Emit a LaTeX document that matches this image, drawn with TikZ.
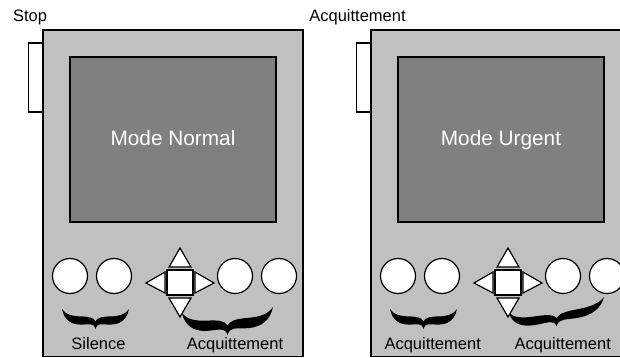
\documentclass[tikz,border=0pt]{standalone}
\usepackage{fontspec}
\setmainfont{Liberation Sans}
\definecolor{bodygray}{HTML}{C0C0C0}
\definecolor{scrgray}{HTML}{808080}
\tikzset{
 devbody/.style={draw=black, fill=bodygray, line width=1.5pt},
 screenbox/.style={draw=black, fill=scrgray, line width=1.5pt},
 sidebtn/.style={draw=black, fill=white, line width=1.5pt},
 btn/.style={circle, draw=black, fill=white, line width=1.2pt, minimum size=35pt, inner sep=0pt},
 padkey/.style={draw=black, fill=white, line width=1.2pt, line join=miter},
 padsq/.style={rectangle, draw=black, fill=white, line width=1.5pt, minimum width=26pt, minimum height=25pt, inner sep=0pt},
 lbl/.style={font=\fontsize{16.5}{18}\selectfont, anchor=base, inner sep=0pt},
 modelbl/.style={font=\fontsize{20.8}{24}\selectfont, text=white, anchor=base, inner sep=0pt},
}
% brace: x1 y1 x2 y2 H
\newcommand{\mybrace}[5]{%
 \begin{scope}[shift={(#1pt,-#2pt)}, x={({(#3-#1)*1pt},{-(#4-#2)*1pt})}, y={(0pt,{-#5*1pt})}]
  \fill[black] (0,0)
   .. controls (0.03,0.50) and (0.12,0.78) .. (0.28,0.78)
   .. controls (0.41,0.78) and (0.47,0.66) .. (0.5,1)
   .. controls (0.53,0.66) and (0.59,0.78) .. (0.72,0.78)
   .. controls (0.88,0.78) and (0.97,0.50) .. (1,0)
   .. controls (0.95,0.26) and (0.86,0.36) .. (0.72,0.37)
   .. controls (0.60,0.38) and (0.53,0.42) .. (0.5,0.62)
   .. controls (0.47,0.42) and (0.40,0.38) .. (0.28,0.37)
   .. controls (0.14,0.36) and (0.05,0.26) .. (0,0) -- cycle;
 \end{scope}}
% device body: offset, tag, mode text
\newcommand{\devicebody}[3]{%
 \node[devbody, rectangle, inner sep=0pt, minimum width=260pt, minimum height=326.5pt] (#2body) at ({173+#1},193.25) {};
 \node[sidebtn, rectangle, inner sep=0pt, minimum width=14.3pt, minimum height=69pt] (#2side) at ({35.85+#1},77.5) {};
 \node[screenbox, rectangle, inner sep=0pt, minimum width=206pt, minimum height=165pt] (#2scr) at ({173+#1},139.5) {};
 \node[modelbl] (#2mode) at ({173+#1},146) {#3};
 \node[btn] (#2c1) at ({70+#1},276) {};
 \node[btn] (#2c2) at ({114+#1},276) {};
 \node[btn] (#2c3) at ({235+#1},276) {};
 \node[btn] (#2c4) at ({279+#1},276) {};
}
\newcommand{\dpad}[2]{%
 \node[padsq] (#2sq) at ({180+#1},282.5) {};
 \draw[padkey] ({180+#1},248) -- ({169+#1},267) -- ({191+#1},267) -- cycle;
 \draw[padkey] ({169+#1},298) -- ({191+#1},298) -- ({180+#1},317) -- cycle;
 \draw[padkey] ({146+#1},283) -- ({165+#1},272) -- ({165+#1},293) -- cycle;
 \draw[padkey] ({214+#1},283) -- ({195+#1},272) -- ({195+#1},293) -- cycle;
}
\begin{document}
\begin{tikzpicture}[x=1pt,y=-1pt]
\useasboundingbox (0,0) rectangle (620,358);
\clip (0,0) rectangle (620,358);
\node[lbl] (stop) at (30,22) {Stop};
\node[lbl] (ack) at (357.5,22) {Acquittement};
\devicebody{0}{L}{Mode Normal}
\devicebody{328}{R}{Mode Urgent}
\mybrace{62}{309}{129}{309}{20}
\mybrace{182}{313}{273}{307}{25}
\mybrace{390}{309}{457}{309}{20}
\mybrace{509}{313}{604}{297}{21}
\dpad{0}{L}
\dpad{328}{R}
\node[lbl] (sil) at (98.5,349.5) {Silence};
\node[lbl] (lack) at (235,349.5) {Acquittement};
\node[lbl] (rack1) at (432.7,349.5) {Acquittement};
\node[lbl] (rack2) at (562.7,349.5) {Acquittement};
\end{tikzpicture}
\end{document}
